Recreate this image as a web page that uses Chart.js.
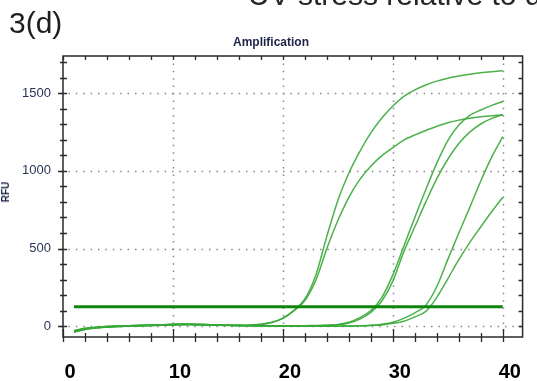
<!DOCTYPE html>
<html>
<head>
<meta charset="utf-8">
<script src="https://cdn.jsdelivr.net/npm/chart.js@4/dist/chart.umd.min.js"></script>
<style>
  html, body { margin: 0; padding: 0; background: #fff; overflow: hidden; width: 537px; height: 381px; }
  #wrap { position: relative; width: 537px; height: 381px; overflow: hidden; }
  #c { position: absolute; left: 0; top: 0; }
  .txt { position: absolute; white-space: nowrap; font-family: "Liberation Sans", Arial, sans-serif; }
  #fig { left: 9px; top: 8px; font-size: 30px; line-height: 30px; color: #1e1e1e; }
  #slide { left: 248px; top: -20px; font-size: 30px; line-height: 30px; color: #262626; }
  #ttl { left: 200px; width: 142px; text-align: center; top: 36px; font-size: 12px; line-height: 12px; font-weight: bold; color: #1c2546; }
  #rfu { left: 5.5px; top: 192px; font-size: 10px; line-height: 10px; font-weight: bold; color: #1c2546; transform: translate(-50%, -50%) rotate(-90deg); }
</style>
</head>
<body>
<div id="wrap">
  <canvas id="c" width="537" height="381"></canvas>
  <div class="txt" id="slide">UV stress relative to d</div>
  <div class="txt" id="fig">3(d)</div>
  <div class="txt" id="ttl">Amplification</div>
  <div class="txt" id="rfu">RFU</div>
</div>
<script>
// ---- data ----
const cycles = [1,2,3,4,5,6,7,8,9,10,11,12,13,14,15,16,17,18,19,20,21,22,23,24,25,26,27,28,29,30,31,32,33,34,35,36,37,38,39,40];

const curveA1 = [-38,-20,-12,-6,-3,0,3,6,8,10,13,11,9,7,6,6,8,12,25,52,102,175,330,580,810,985,1125,1245,1340,1418,1480,1522,1553,1578,1597,1611,1623,1632,1639,1645];
const curveA2 = [-30,-16,-8,-3,0,3,5,7,9,12,14,12,10,8,5,4,6,11,24,50,98,165,296,500,680,830,945,1030,1098,1150,1198,1232,1260,1288,1310,1327,1339,1348,1355,1360];
const curveB1 = [-40,-21,-11,-5,-2,-1,1,3,5,7,9,8,7,5,4,3,3,2,2,1,1,1,2,5,11,25,55,100,185,330,515,700,880,1050,1195,1295,1358,1392,1422,1447];
const curveB2 = [-32,-15,-7,-2,1,2,4,6,8,10,11,11,9,7,5,4,3,3,2,2,2,3,4,5,9,20,45,88,162,290,480,640,800,950,1075,1177,1250,1302,1338,1363];
const curveC1 = [-36,-18,-10,-5,-2,0,2,4,6,8,10,10,8,6,5,4,2,1,0,0,-1,-1,-1,0,0,1,2,4,12,25,50,85,135,255,430,600,765,935,1090,1220];
const curveC2 = [-28,-14,-7,-2,1,3,5,7,9,11,12,11,10,8,6,5,4,3,3,2,1,0,-1,-1,0,1,2,5,8,18,32,60,95,185,305,428,540,640,738,830];

const thresholdCycles = [1, 40];
const thresholdValue = 125;

const xTickLabels = [0, 10, 20, 30, 40];
const yTickLabels = [0, 500, 1000, 1500];

// ---- helpers ----
const pts = (arr) => arr.map((v, i) => ({ x: cycles[i], y: v }));
const curveStyle = { borderColor: 'rgba(55,168,55,0.9)', borderWidth: 1.5, pointRadius: 0, cubicInterpolationMode: 'monotone', fill: false, order: 1 };

const axisFrame = {
  id: 'axisFrame',
  beforeDatasetsDraw(chart) {
    const { ctx, chartArea: a, scales: { x, y } } = chart;
    ctx.save();
    ctx.strokeStyle = '#888';
    ctx.lineWidth = 1.5;
    ctx.setLineDash([1.5, 5.9]);
    xTickLabels.forEach(v => {
      if (v === 0) return;
      const px = Math.round(x.getPixelForValue(v)) + 0.5;
      ctx.beginPath(); ctx.moveTo(px, a.top); ctx.lineTo(px, a.bottom); ctx.stroke();
    });
    yTickLabels.forEach(v => {
      const py = Math.round(y.getPixelForValue(v)) + 0.5;
      ctx.beginPath(); ctx.moveTo(a.left - 2, py); ctx.lineTo(a.right + 2, py); ctx.stroke();
    });
    ctx.restore();
  },
  afterDatasetsDraw(chart) {
    const { ctx, chartArea: a, scales: { x, y } } = chart;
    ctx.save();
    ctx.strokeStyle = '#2a2a2a';
    ctx.lineWidth = 1.5;
    ctx.setLineDash([]);
    ctx.strokeRect(a.left, a.top, a.right - a.left, a.bottom - a.top);
    ctx.lineWidth = 1.3;
    for (let v = 0; v <= x.max + 1e-6; v += 2) {
      const px = Math.round(x.getPixelForValue(v)) + 0.5;
      const major = v % 10 === 0;
      ctx.beginPath();
      ctx.moveTo(px, a.bottom - (major ? 8 : 4)); ctx.lineTo(px, a.bottom + 5);
      ctx.moveTo(px, a.top); ctx.lineTo(px, a.top + 4);
      ctx.stroke();
    }
    for (let v = 0; v <= y.max + 1e-6; v += 100) {
      const py = Math.round(y.getPixelForValue(v)) + 0.5;
      const major = v % 500 === 0;
      ctx.beginPath();
      ctx.moveTo(a.left - (major ? 5 : 3), py); ctx.lineTo(a.left + 4, py);
      ctx.moveTo(a.right, py); ctx.lineTo(a.right - 4, py);
      ctx.stroke();
    }
    ctx.restore();
  }
};

new Chart(document.getElementById('c'), {
  type: 'line',
  data: {
    datasets: [
      { data: thresholdCycles.map(c => ({ x: c, y: thresholdValue })), borderColor: '#0c870c', borderWidth: 3, pointRadius: 0, fill: false, order: 0 },
      Object.assign({ data: pts(curveA1) }, curveStyle),
      Object.assign({ data: pts(curveA2) }, curveStyle),
      Object.assign({ data: pts(curveB1) }, curveStyle),
      Object.assign({ data: pts(curveB2) }, curveStyle),
      Object.assign({ data: pts(curveC1) }, curveStyle),
      Object.assign({ data: pts(curveC2) }, curveStyle)
    ]
  },
  options: {
    responsive: false,
    animation: false,
    devicePixelRatio: 1,
    layout: { padding: { top: 56, right: 2, left: 0, bottom: 0 } },
    plugins: { legend: { display: false }, tooltip: { enabled: false }, title: { display: false } },
    scales: {
      x: {
        type: 'linear', min: 0, max: 41.8,
        border: { display: false },
        grid: { display: false, drawTicks: false },
        afterBuildTicks: (s) => { s.ticks = xTickLabels.map(v => ({ value: v })); },
        afterFit: (s) => { s.height = 44; },
        ticks: { padding: 23, labelOffset: 7, color: '#000', callback: (v) => String(v), font: { family: 'Liberation Sans, Arial', size: 20, weight: 'bold' } }
      },
      y: {
        type: 'linear', min: -70, max: 1740,
        border: { display: false },
        grid: { display: false, drawTicks: false },
        afterBuildTicks: (s) => { s.ticks = yTickLabels.map(v => ({ value: v })); },
        afterFit: (s) => { s.width = 63; },
        ticks: { padding: 12, color: '#2a3358', callback: (v) => String(v), font: { family: 'Liberation Sans, Arial', size: 13 } }
      }
    }
  },
  plugins: [axisFrame]
});
</script>
</body>
</html>
